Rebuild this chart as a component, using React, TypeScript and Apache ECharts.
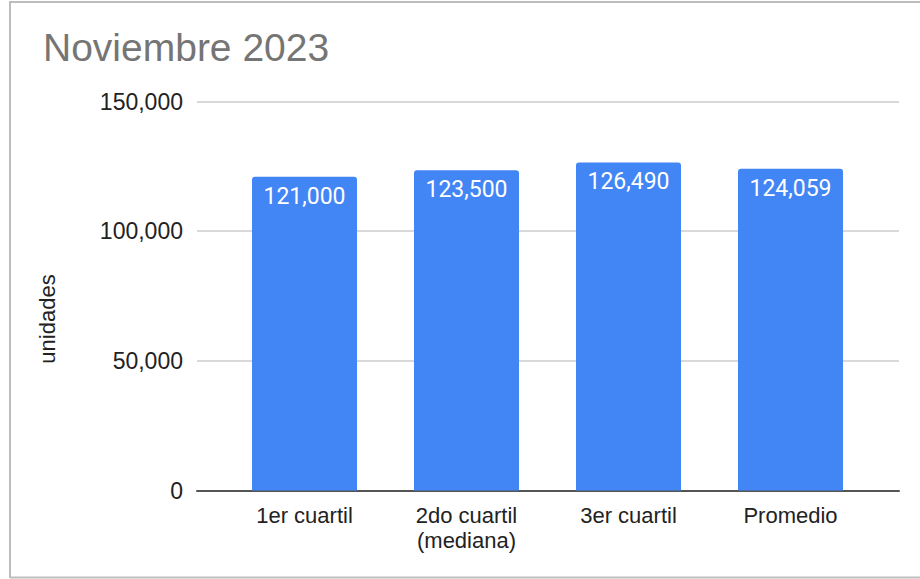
import React, { useEffect, useRef } from "react";
import * as echarts from "echarts";

const title = "Noviembre 2023";
const categories = ["1er cuartil", "2do cuartil\n(mediana)", "3er cuartil", "Promedio"];
const values = [121000, 123500, 126490, 124059];
const yTicks = { min: 0, max: 150000, interval: 50000 };
const yAxisName = "unidades";

const fmt = (v: number) => v.toLocaleString("en-US");
const baseFont = "'Liberation Sans', Arial, Helvetica, sans-serif";

export default function App() {
  const ref = useRef<HTMLDivElement>(null);
  useEffect(() => {
    if (!ref.current) return;
    const chart = echarts.init(ref.current, undefined, { renderer: "svg" });
    const top = 101.5;
    const bottom = 579 - 490.5;
    chart.setOption({
      animation: false,
      backgroundColor: "#ffffff",
      title: {
        text: title,
        left: 38,
        top: 23,
        textStyle: { fontFamily: baseFont, fontSize: 39, fontWeight: "normal", color: "#757575" },
      },
      graphic: [
        { type: "line", shape: { x1: 10, y1: 2, x2: 920, y2: 2 }, style: { stroke: "#bdbdbd", lineWidth: 2 }, silent: true },
        { type: "line", shape: { x1: 10, y1: 1, x2: 10, y2: 578 }, style: { stroke: "#bdbdbd", lineWidth: 2 }, silent: true },
        { type: "line", shape: { x1: 10, y1: 577.5, x2: 920, y2: 577.5 }, style: { stroke: "#bdbdbd", lineWidth: 2 }, silent: true },
        {
          type: "text",
          x: 47,
          y: 319,
          rotation: Math.PI / 2,
          style: {
            text: yAxisName,
            align: "center",
            verticalAlign: "middle",
            font: `22px ${baseFont}`,
            fill: "#222222",
          },
          silent: true,
        },
      ],
      grid: [
        { left: 197, right: 21, top, bottom },
        { left: 223.5, right: 48.5, top, bottom },
      ],
      xAxis: [
        {
          type: "category",
          gridIndex: 0,
          data: [""],
          axisLine: { show: true, lineStyle: { color: "#555555", width: 2 } },
          axisTick: { show: false },
          axisLabel: { show: false },
          splitLine: { show: false },
        },
        {
          type: "category",
          gridIndex: 1,
          data: categories,
          axisLine: { show: false },
          axisTick: { show: false },
          axisLabel: {
            margin: 12,
            fontFamily: baseFont,
            fontSize: 22,
            lineHeight: 25,
            color: "#222222",
            interval: 0,
          },
        },
      ],
      yAxis: [
        {
          type: "value",
          gridIndex: 0,
          min: yTicks.min,
          max: yTicks.max,
          interval: yTicks.interval,
          axisLine: { show: false },
          axisTick: { show: false },
          axisLabel: {
            margin: 14,
            fontFamily: baseFont,
            fontSize: 23,
            color: "#222222",
            formatter: (v: number) => fmt(v),
          },
          splitLine: { lineStyle: { color: "#cccccc", width: 1.5 } },
        },
        {
          type: "value",
          gridIndex: 1,
          min: yTicks.min,
          max: yTicks.max,
          interval: yTicks.interval,
          show: false,
          splitLine: { show: false },
        },
      ],
      series: [
        {
          type: "bar",
          xAxisIndex: 1,
          yAxisIndex: 1,
          data: values,
          barWidth: 105,
          itemStyle: { color: "#4285F4", borderRadius: [3, 3, 0, 0] },
          label: {
            show: true,
            position: "insideTop",
            distance: 8,
            color: "#ffffff",
            fontFamily: "Roboto, sans-serif",
            fontSize: 23,
            formatter: (p: any) => fmt(p.value),
          },
        },
      ],
    });
    return () => chart.dispose();
  }, []);
  return (
    <div
      ref={ref}
      style={{ position: "fixed", left: 0, top: 0, width: 920, height: 579 }}
    />
  );
}
